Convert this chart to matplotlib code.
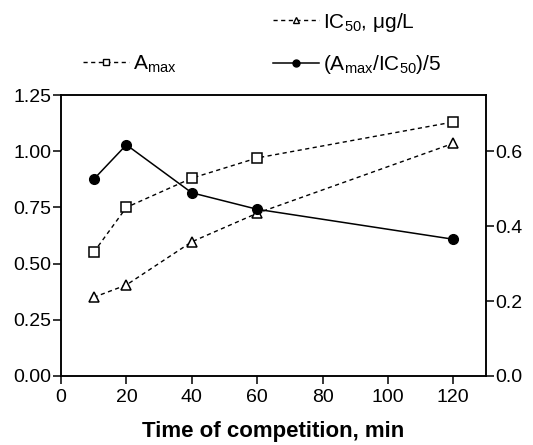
import matplotlib
matplotlib.use("Agg")
import matplotlib.pyplot as plt
from matplotlib.lines import Line2D

plt.rcParams['font.family'] = ['Liberation Sans', 'DejaVu Sans']
plt.rcParams['mathtext.fontset'] = 'custom'
plt.rcParams['mathtext.rm'] = 'Liberation Sans'
plt.rcParams['mathtext.it'] = 'Liberation Sans'

time_min = [10, 20, 40, 60, 120]
amax = [0.55, 0.75, 0.88, 0.97, 1.13]
ic50 = [0.35, 0.405, 0.597, 0.724, 1.035]
ratio = [0.525, 0.617, 0.489, 0.445, 0.365]

left_ticks = [0.00, 0.25, 0.50, 0.75, 1.00, 1.25]
right_ticks = [0.0, 0.2, 0.4, 0.6]
x_ticks = [0, 20, 40, 60, 80, 100, 120]

fig = plt.figure(figsize=(5.33, 4.45), dpi=100)
ax = fig.add_axes([61/533, 1-376/445, (486-61)/533, (376-95)/445])
ax2 = ax.twinx()

dash = (0, (3, 2.5))
ax.plot(time_min, amax, linestyle=dash, color='black', lw=1.0, marker='s',
        mfc='white', mec='black', ms=6.5, mew=1.1, zorder=3)
ax.plot(time_min, ic50, linestyle=dash, color='black', lw=1.0, marker='^',
        mfc='white', mec='black', ms=6.5, mew=1.1, zorder=3)
ax2.plot(time_min, ratio, linestyle='-', color='black', lw=1.1, marker='o',
         mfc='black', mec='black', ms=7, zorder=3)

ax.set_xlim(0, 130)
ax.set_ylim(0, 1.25)
ax2.set_ylim(0, 0.75)
ax.set_xticks(x_ticks)
ax.set_yticks(left_ticks)
ax.set_yticklabels([f"{v:.2f}" for v in left_ticks])
ax2.set_yticks(right_ticks)
ax2.set_yticklabels([f"{v:.1f}" for v in right_ticks])

for a in (ax, ax2):
    a.tick_params(direction='out', length=5.5, width=1.1, labelsize=14, pad=1.5)
    for s in a.spines.values():
        s.set_linewidth(1.1)
ax.tick_params(axis='x', pad=3.5)

ax.set_xlabel("Time of competition, min", fontsize=16, fontweight='bold', labelpad=11)

h_amax = Line2D([], [], linestyle=dash, color='black', lw=1.0, marker='s',
                mfc='white', mec='black', ms=5, mew=1.0)
h_ic50 = Line2D([], [], linestyle=dash, color='black', lw=1.0, marker='^',
                mfc='white', mec='black', ms=5, mew=1.0)
h_ratio = Line2D([], [], linestyle='-', color='black', lw=1.1, marker='o',
                 mfc='black', mec='black', ms=5)

leg_kw = dict(frameon=False, fontsize=15, handlelength=2.2,
              handletextpad=0.2, borderpad=0, borderaxespad=0, loc='center left')
leg1 = fig.legend([h_amax], [r'A$_{\mathrm{max}}$'],
                  bbox_to_anchor=(83/533, 1-64/445), **leg_kw)
leg2 = fig.legend([h_ic50, h_ratio],
                  [r'IC$_{50}$, μg/L', r'(A$_{\mathrm{max}}$/IC$_{50}$)/5'],
                  labelspacing=0.95, bbox_to_anchor=(273/533, 1-43.5/445), **leg_kw)

fig.savefig("out.png", dpi=100)
